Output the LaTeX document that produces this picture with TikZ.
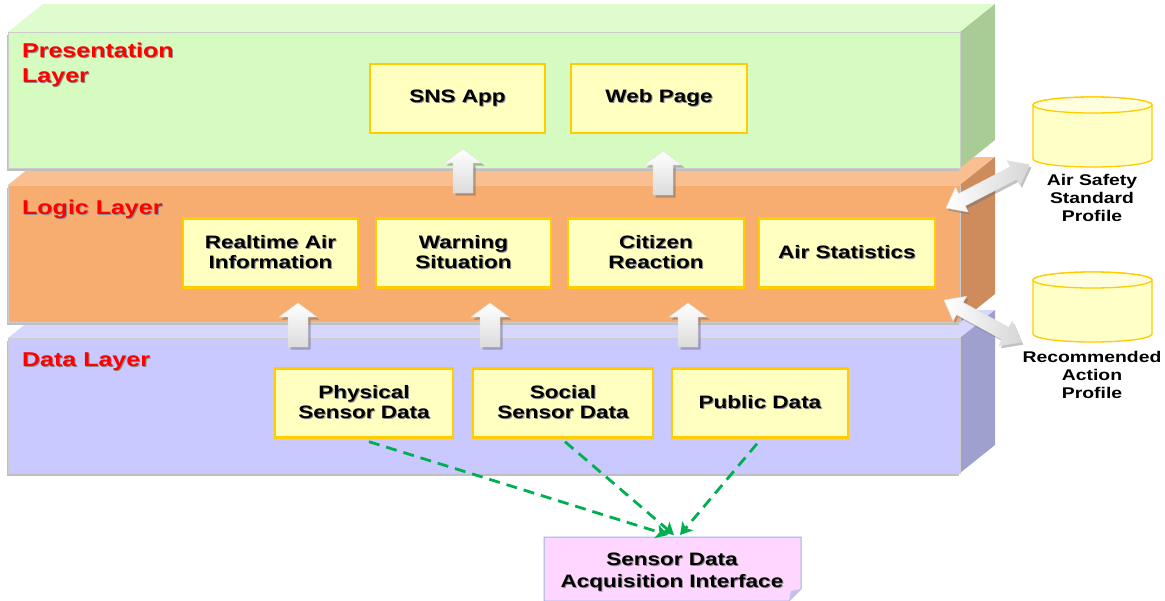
\documentclass[tikz,border=0pt]{standalone}
\usepackage{fontspec}
\setmainfont{Liberation Sans}[FakeStretch=1.25]
\usetikzlibrary{arrows.meta,calc}
\definecolor{grF}{RGB}{213,251,192}
\definecolor{grT}{RGB}{222,252,205}
\definecolor{grS}{RGB}{169,204,150}
\definecolor{orF}{RGB}{247,172,112}
\definecolor{orT}{RGB}{249,191,144}
\definecolor{orS}{RGB}{206,140,92}
\definecolor{puF}{RGB}{201,201,255}
\definecolor{puT}{RGB}{214,214,255}
\definecolor{puS}{RGB}{160,160,206}
\definecolor{boxF}{RGB}{255,255,192}
\definecolor{boxB}{RGB}{255,204,0}
\definecolor{cylF}{RGB}{255,255,200}
\definecolor{dgreen}{RGB}{0,176,80}
\definecolor{pinkF}{RGB}{255,214,255}
\definecolor{pinkB}{RGB}{150,180,230}
\newcommand\txsh[1]{\leavevmode\rlap{\kern1pt\raisebox{-1pt}{\textcolor{black!45}{#1}}}#1}
\newcommand\blkup[3]{%
  \begin{scope}[shift={({#1+2.5},{-#2-2.5})}]
    \fill[black!60,opacity=.45] (-10,-#3) -- (-10,-14) -- (-19,-14) -- (0,0) -- (19,-14) -- (10,-14) -- (10,-#3) -- cycle;
  \end{scope}
  \begin{scope}[shift={(#1,-#2)}]
    \path[top color=white,bottom color=black!14,draw=black!12,line width=.4pt] (-10,-#3) -- (-10,-14) -- (-19,-14) -- (0,0) -- (19,-14) -- (10,-14) -- (10,-#3) -- cycle;
  \end{scope}}
\newcommand\dblarr[4]{%
  \begin{scope}[shift={({#1+2},{-#2-2.5})},rotate=#3]
    \fill[black!60,opacity=.4] (0,0) -- (18,14) -- (18,7) -- ({#4-18},7) -- ({#4-18},14) -- (#4,0) -- ({#4-18},-14) -- ({#4-18},-7) -- (18,-7) -- (18,-14) -- cycle;
  \end{scope}
  \begin{scope}[shift={(#1,-#2)},rotate=#3]
    \path[left color=white,right color=black!16,draw=black!12,line width=.4pt] (0,0) -- (18,14) -- (18,7) -- ({#4-18},7) -- ({#4-18},14) -- (#4,0) -- ({#4-18},-14) -- ({#4-18},-7) -- (18,-7) -- (18,-14) -- cycle;
  \end{scope}}
\newcommand\cylndr[3]{%
  \path[fill=cylF,draw=boxB,line width=1.3pt] (1033,-#2) -- (1033,-#3) arc[start angle=180,end angle=360,x radius=59.5,y radius=8] -- (1152,-#2) arc[start angle=0,end angle=180,x radius=59.5,y radius=8] -- cycle;
  \path[fill=cylF!60!white,draw=boxB,line width=1.3pt] (1092.5,-#2) ellipse[x radius=59.5,y radius=8];}
\tikzset{
  x=1pt,y=1pt,
  ibox/.style={draw=boxB,line width=2.4pt,fill=boxF,minimum width=#1,minimum height=69pt,inner sep=0pt,align=center,font=\fontsize{18}{20}\selectfont\bfseries},
  laylbl/.style={text=red,inner sep=0pt,align=left,font=\fontsize{20}{25}\selectfont\bfseries},
  cyllbl/.style={inner sep=0pt,align=center,font=\fontsize{15.5}{18}\selectfont\bfseries},
  front/.style={draw=black!20,line width=.8pt},
  dataflow/.style={dgreen,line width=2.8pt,dash pattern=on 11pt off 7pt,-{Stealth[length=12pt,width=14pt,inset=3pt]}}
}
\begin{document}
\begin{tikzpicture}
\useasboundingbox (0,0) rectangle (1165,-600);
% ---- data layer (purple)
\fill[black!25] (7,-340.5) rectangle (959,-475.5);
\fill[puT] (8,-338) -- (43,-310) -- (995,-310) -- (960,-338) -- cycle;
\fill[puS] (960,-338) -- (995,-310) -- (995,-445) -- (960,-473) -- cycle;
\path[fill=puF,front] (8,-338) rectangle (960,-473);
% ---- logic layer (orange)
\fill[black!25] (7,-187.5) rectangle (959,-324.5);
\fill[orT] (8,-185) -- (43,-157) -- (995,-157) -- (960,-185) -- cycle;
\fill[orS] (960,-185) -- (995,-157) -- (995,-294) -- (960,-322) -- cycle;
\path[fill=orF,front] (8,-185) rectangle (960,-322);
% ---- presentation layer (green)
\fill[black!25] (7,-34.5) rectangle (959,-170.5);
\fill[grT] (8,-32) -- (43,-4) -- (995,-4) -- (960,-32) -- cycle;
\fill[grS] (960,-32) -- (995,-4) -- (995,-140) -- (960,-168) -- cycle;
\path[fill=grF,front] (8,-32) rectangle (960,-168);
% ---- layer labels
\node[laylbl,anchor=north west] (lpres) at (22,-43) {\txsh{Presentation}\\\txsh{Layer}};
\node[laylbl,anchor=base west] (llogic) at (22,-214) {\txsh{Logic Layer}};
\node[laylbl,anchor=base west] (ldata) at (22,-366) {\txsh{Data Layer}};
% ---- presentation boxes
\node[ibox=175pt] (sns) at (457.5,-98.5) {\txsh{SNS App}};
\node[ibox=176pt] (web) at (659,-98.5) {\txsh{Web Page}};
% ---- logic boxes
\node[ibox=175pt] (rt) at (270.5,-253) {\txsh{Realtime Air}\\\txsh{Information}};
\node[ibox=175pt] (warn) at (463.5,-253) {\txsh{Warning}\\\txsh{Situation}};
\node[ibox=176pt] (cit) at (656,-253) {\txsh{Citizen}\\\txsh{Reaction}};
\node[ibox=176pt] (stat) at (847,-253) {\txsh{Air Statistics}};
% ---- data boxes
\node[ibox=178pt] (phys) at (364,-403) {\txsh{Physical}\\\txsh{Sensor Data}};
\node[ibox=180pt] (soc) at (563,-403) {\txsh{Social}\\\txsh{Sensor Data}};
\node[ibox=176pt] (pub) at (760,-403) {\txsh{Public Data}};
% ---- block arrows between layers
\blkup{463}{149}{44}
\blkup{663}{151}{44}
\blkup{298}{303}{44}
\blkup{490}{303}{44}
\blkup{688}{303}{44}
% ---- profiles
\cylndr{1092.5}{105}{159}
\cylndr{1092.5}{280}{334}
\node[cyllbl] (aspl) at (1092,-198) {Air Safety\\Standard\\Profile};
\node[cyllbl] (rapl) at (1092,-375) {Recommended\\Action\\Profile};
\coordinate (lg1) at (946,-208);
\coordinate (lg2) at (944,-300);
\dblarr{946}{208}{27.4}{94}
\dblarr{944}{300}{-28.6}{88}
% ---- sensor data acquisition interface
\path[fill=pinkF,draw=pinkB,line width=1pt] (544,-537) -- (801,-537) -- (801,-589) -- (789,-601) -- (544,-601) -- cycle;
\path[fill=pinkB!60!pinkF] (801,-589) -- (789,-601) -- (791,-591) -- cycle;
\node[inner sep=0pt,align=center,font=\fontsize{18}{22}\selectfont\bfseries] (sdai) at (672,-572.5) {\txsh{Sensor Data}\\\txsh{Acquisition Interface}};
\coordinate (sdtop) at (674,-535);
\draw[dataflow] ($(phys.south)+(5,-3)$) -- ($(sdtop)+(-6,0)$);
\draw[dataflow] ($(soc.south)+(2,-3)$) -- ($(sdtop)+(0,0)$);
\draw[dataflow] ($(pub.south)+(-3,-5)$) -- ($(sdtop)+(6,0)$);
\end{tikzpicture}
\end{document}
